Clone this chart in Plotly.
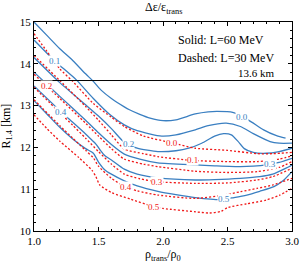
import plotly.graph_objects as go
import numpy as np

# ---- data ----
levels = ["0.0", "0.1", "0.2", "0.3", "0.4", "0.5"]

# Solid (L = 60 MeV)
b00_x = [1.0, 1.1, 1.2, 1.3, 1.4, 1.46, 1.52, 1.6, 1.7, 1.74, 1.82, 1.9, 2.0, 2.1, 2.25, 2.35, 2.42, 2.54, 2.66, 2.78, 2.88, 2.95]
b00_y = [15.0, 14.68, 14.36, 14.08, 13.76, 13.58, 13.37, 13.17, 12.97, 12.9, 12.79, 12.7, 12.64, 12.66, 12.8, 12.85, 12.86, 12.84, 12.66, 12.42, 12.28, 12.22]
b01_x = [1.0, 1.16, 1.2, 1.33, 1.46, 1.59, 1.7, 1.8, 1.99, 2.1, 2.25, 2.35, 2.49, 2.6, 2.7, 2.83, 2.9, 3.0]
b01_y = [14.57, 14.07, 13.96, 13.61, 13.17, 12.78, 12.54, 12.4, 12.27, 12.3, 12.42, 12.52, 12.58, 12.5, 12.33, 12.14, 12.1, 12.1]
b02_x = [1.0, 1.2, 1.4, 1.5, 1.6, 1.7, 1.8, 1.96, 2.1, 2.2, 2.3, 2.4, 2.47, 2.53, 2.58, 2.63, 2.7, 2.8, 2.9, 3.0]
b02_y = [14.15, 13.55, 13.02, 12.75, 12.45, 12.12, 11.98, 11.9, 11.92, 11.98, 12.1, 12.27, 12.33, 12.3, 12.15, 11.97, 11.88, 11.86, 11.9, 11.98]
b03_x = [1.0, 1.2, 1.4, 1.5, 1.6, 1.7, 1.82, 1.96, 2.25, 2.4, 2.6, 2.7, 2.8, 2.9, 3.0]
b03_y = [13.8, 13.22, 12.65, 12.35, 12.07, 11.84, 11.72, 11.63, 11.58, 11.56, 11.54, 11.55, 11.58, 11.64, 11.74]
b04_x = [1.0, 1.21, 1.3, 1.4, 1.45, 1.48, 1.51, 1.55, 1.6, 1.7, 1.8, 1.96, 2.25, 2.4, 2.6, 2.75, 2.85, 2.95, 3.0]
b04_y = [13.47, 12.85, 12.6, 12.32, 12.17, 12.08, 11.95, 11.8, 11.7, 11.48, 11.36, 11.27, 11.22, 11.23, 11.26, 11.3, 11.36, 11.5, 11.58]
b05_x = [1.0, 1.1, 1.2, 1.3, 1.4, 1.46, 1.5, 1.55, 1.6, 1.7, 1.8, 1.96, 2.1, 2.25, 2.45, 2.55, 2.65, 2.75, 2.86, 2.93, 3.0]
b05_y = [13.12, 12.8, 12.48, 12.2, 11.97, 11.86, 11.65, 11.46, 11.36, 11.2, 11.08, 10.95, 10.87, 10.8, 10.75, 10.8, 10.86, 10.95, 11.06, 11.2, 11.42]

# Dashed (L = 30 MeV)
r00_x = [1.0, 1.1, 1.2, 1.3, 1.46, 1.6, 1.7, 1.85, 2.07, 2.25, 2.5, 2.73, 2.85, 3.0]
r00_y = [14.72, 14.3, 13.88, 13.58, 13.05, 12.72, 12.5, 12.27, 12.11, 11.98, 11.93, 11.85, 11.85, 11.88]
r01_x = [1.0, 1.2, 1.4, 1.5, 1.6, 1.7, 1.85, 1.96, 2.22, 2.5, 2.73, 2.9, 3.0]
r01_y = [14.2, 13.6, 12.98, 12.65, 12.3, 11.96, 11.85, 11.78, 11.69, 11.66, 11.66, 11.72, 11.8]
r02_x = [1.0, 1.2, 1.4, 1.5, 1.6, 1.7, 1.85, 1.96, 2.25, 2.5, 2.73, 2.9, 3.0]
r02_y = [13.75, 13.17, 12.58, 12.27, 11.97, 11.72, 11.6, 11.54, 11.43, 11.4, 11.42, 11.52, 11.66]
r03_x = [1.0, 1.2, 1.3, 1.4, 1.5, 1.6, 1.7, 1.82, 1.95, 2.25, 2.5, 2.73, 2.85, 3.0]
r03_y = [13.44, 12.83, 12.53, 12.22, 11.9, 11.6, 11.36, 11.25, 11.18, 11.14, 11.15, 11.22, 11.3, 11.5]
r04_x = [1.0, 1.2, 1.3, 1.4, 1.46, 1.5, 1.6, 1.7, 1.8, 1.96, 2.25, 2.47, 2.6, 2.73, 2.85, 3.0]
r04_y = [13.14, 12.52, 12.22, 11.93, 11.75, 11.55, 11.26, 11.07, 10.96, 10.86, 10.78, 10.86, 10.94, 11.02, 11.1, 11.26]
r05_x = [1.0, 1.1, 1.2, 1.35, 1.45, 1.48, 1.51, 1.6, 1.75, 1.92, 2.0, 2.25, 2.36, 2.45, 2.5, 2.65, 2.8, 2.9, 3.0]
r05_y = [12.78, 12.45, 12.15, 11.75, 11.45, 11.3, 11.1, 10.92, 10.76, 10.59, 10.54, 10.46, 10.43, 10.47, 10.56, 10.65, 10.74, 10.85, 11.02]

solid_curves = [(b00_x, b00_y), (b01_x, b01_y), (b02_x, b02_y), (b03_x, b03_y), (b04_x, b04_y), (b05_x, b05_y)]
dashed_curves = [(r00_x, r00_y), (r01_x, r01_y), (r02_x, r02_y), (r03_x, r03_y), (r04_x, r04_y), (r05_x, r05_y)]

solid_label_x = [2.61, 1.16, 1.73, 2.83, 1.21, 2.47]
dashed_label_x = [2.07, 2.23, 1.1, 1.95, 1.71, 1.93]

r_limit = 13.6
x_ticks = [1.0, 1.5, 2.0, 2.5, 3.0]
y_ticks = [10, 11, 12, 13, 14, 15]

BLUE = "#3a7fc1"
RED = "#f01818"
FONT = "Liberation Serif, Times New Roman, DejaVu Serif, serif"

fig = go.Figure()

for (x, y) in solid_curves:
    fig.add_trace(go.Scatter(x=x, y=y, mode="lines", line=dict(color=BLUE, width=1.3, shape="spline", smoothing=0.6),
                             showlegend=False, hoverinfo="skip"))
for (x, y) in dashed_curves:
    fig.add_trace(go.Scatter(x=x, y=y, mode="lines", line=dict(color=RED, width=1.3, dash="2px,2px", shape="spline", smoothing=0.6),
                             showlegend=False, hoverinfo="skip"))

# 13.6 km line
fig.add_trace(go.Scatter(x=[x_ticks[0], x_ticks[-1]], y=[r_limit, r_limit], mode="lines",
                         line=dict(color="black", width=1), showlegend=False, hoverinfo="skip"))

# contour labels placed on curves
for lab, lx, (x, y) in zip(levels, solid_label_x, solid_curves):
    fig.add_annotation(x=lx, y=float(np.interp(lx, x, y)), text=lab, showarrow=False,
                       font=dict(family=FONT, size=9, color=BLUE), bgcolor="white", borderpad=0)
for lab, lx, (x, y) in zip(levels, dashed_label_x, dashed_curves):
    fig.add_annotation(x=lx, y=float(np.interp(lx, x, y)), text=lab, showarrow=False,
                       font=dict(family=FONT, size=9, color=RED), bgcolor="white", borderpad=0)

fig.add_annotation(x=0.94, y=r_limit, xref="paper", yref="y", text="13.6 km", showarrow=False,
                   xanchor="right", yanchor="bottom", font=dict(family=FONT, size=11, color="black"))
fig.add_annotation(x=0.55, y=0.915, xref="paper", yref="paper", text="Solid: L=60 MeV", showarrow=False,
                   xanchor="left", yanchor="middle", font=dict(family=FONT, size=12, color="black"))
fig.add_annotation(x=0.55, y=0.83, xref="paper", yref="paper", text="Dashed: L=30 MeV", showarrow=False,
                   xanchor="left", yanchor="middle", font=dict(family=FONT, size=12, color="black"))

# title and axis titles as annotations (fixed positions)
fig.add_annotation(x=0.5, y=1.0, xref="paper", yref="paper", yshift=4, text="Δε/ε<sub>trans</sub>",
                   showarrow=False, xanchor="center", yanchor="bottom", font=dict(family=FONT, size=12, color="black"))
fig.add_annotation(x=0.5, y=0.0, xref="paper", yref="paper", yshift=-14, text="ρ<sub>trans</sub>/ρ<sub>0</sub>",
                   showarrow=False, xanchor="center", yanchor="top", font=dict(family=FONT, size=12, color="black"))
fig.add_annotation(x=0.0, y=0.5, xref="paper", yref="paper", xshift=-18, text="R<sub>1.4</sub> [km]", textangle=-90,
                   showarrow=False, xanchor="right", yanchor="middle", font=dict(family=FONT, size=12, color="black"))

fig.update_layout(
    width=302, height=264,
    margin=dict(l=34, r=10, t=22, b=33, autoexpand=False),
    plot_bgcolor="white", paper_bgcolor="white",
    font=dict(family=FONT, size=11, color="black"),
)
fig.update_xaxes(range=[1.0, 3.0], tickvals=x_ticks, ticktext=[f"{v:.1f}" for v in x_ticks],
                 ticks="inside", ticklen=4, tickcolor="black", showline=True, linecolor="black", linewidth=1,
                 mirror="ticks", showgrid=False, zeroline=False, automargin=False,
                 minor=dict(ticks="inside", dtick=0.1, ticklen=2, tickcolor="black", showgrid=False),
                 tickfont=dict(family=FONT, size=11))
fig.update_yaxes(range=[10, 15], tickvals=y_ticks,
                 ticks="inside", ticklen=4, tickcolor="black", showline=True, linecolor="black", linewidth=1,
                 mirror="ticks", showgrid=False, zeroline=False, automargin=False,
                 minor=dict(ticks="inside", dtick=0.2, ticklen=2, tickcolor="black", showgrid=False),
                 tickfont=dict(family=FONT, size=11))

fig.write_html("out.html", config={"displayModeBar": False},
               post_script="document.body.style.margin='0';document.body.style.padding='0';")
